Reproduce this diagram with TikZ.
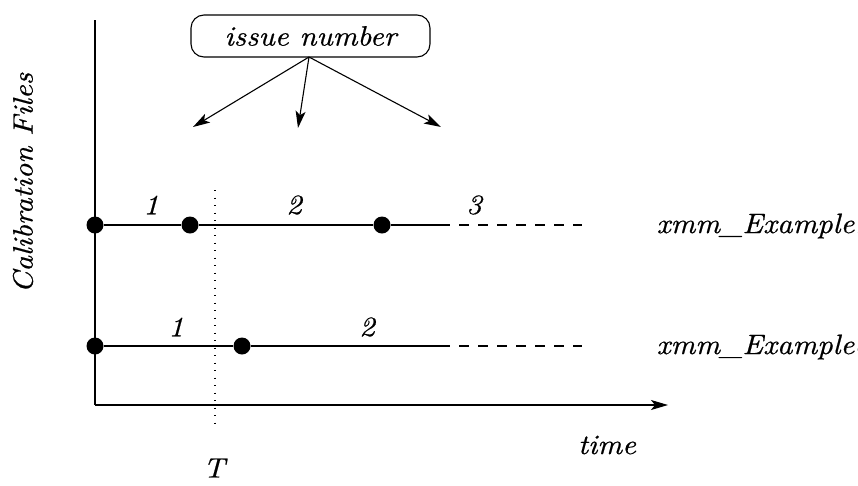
\documentclass[tikz,border=0pt]{standalone}
\usepackage{fontspec}
\newfontfamily\lblfont{lmroman10-italic.otf}[FakeStretch=1.08,FakeBold=0.6]
\usetikzlibrary{arrows.meta}
\begin{document}
\begin{tikzpicture}[x=1pt,y=-1pt,
  font=\lblfont\fontsize{28}{32}\selectfont,
  line width=1.1pt,
  dot/.style={circle,fill=black,inner sep=0pt,minimum size=17pt},
  lbl/.style={inner sep=0pt},
  tip/.style={-{Stealth[length=17pt,width=10pt,inset=4pt]}},
  dashline/.style={dash pattern=on 10pt off 9pt},
  dotline/.style={line width=1.2pt,dash pattern=on 1.3pt off 6.2pt}]
\useasboundingbox (0,0) rectangle (858,485);
\clip (0,0) rectangle (858,485);
% axes
\coordinate (origin) at (95,405);
\coordinate (ytop) at (95,20);
\coordinate (xend) at (668,405);
\draw (ytop) -- (origin);
\draw[tip] (origin) -- (xend);
% dotted T line
\coordinate (Ttop) at (215,190);
\coordinate (Tbot) at (215,428);
\draw[dotline] (Ttop) -- (Tbot);
% top file line
\node[dot] (a0) at (95,225) {};
\node[dot] (a1) at (190,225) {};
\node[dot] (a2) at (382,225) {};
\coordinate (a3) at (440,225);
\coordinate (a4) at (582,225);
\draw (a0) -- (a1) -- (a2) -- (a3);
\draw[dashline] (a3) -- (a4);
% bottom file line
\node[dot] (b0) at (95,346) {};
\node[dot] (b1) at (242,346) {};
\coordinate (b2) at (440,346);
\coordinate (b3) at (582,346);
\draw (b0) -- (b1) -- (b2);
\draw[dashline] (b2) -- (b3);
% issue labels
\node[lbl] (n1) at (151,205) {1};
\node[lbl] (n2) at (294,205) {2};
\node[lbl] (n3) at (474,205) {3};
\node[lbl] (m1) at (176,327) {1};
\node[lbl] (m2) at (367,327) {2};
% file names
\node[lbl,anchor=west] (f1) at (656,226) {xmm\_Example1};
\node[lbl,anchor=west] (f0) at (656,347) {xmm\_Example0};
% axis labels
\node[lbl,rotate=90] (cal) at (23,183) {Calibration Files};
\node[lbl] (time) at (607,445) {time};
\node[lbl] (T) at (214,468) {T};
% issue number box
\node[draw,rounded corners=13pt,minimum width=239pt,minimum height=42pt,inner sep=0pt] (box) at (310.5,36) {issue number};
\coordinate (src) at (309,57);
\coordinate (t1) at (193,127);
\coordinate (t2) at (298,128);
\coordinate (t3) at (441,127);
\draw[tip] (src) -- (t1);
\draw[tip] (src) -- (t2);
\draw[tip] (src) -- (t3);
\end{tikzpicture}
\end{document}
